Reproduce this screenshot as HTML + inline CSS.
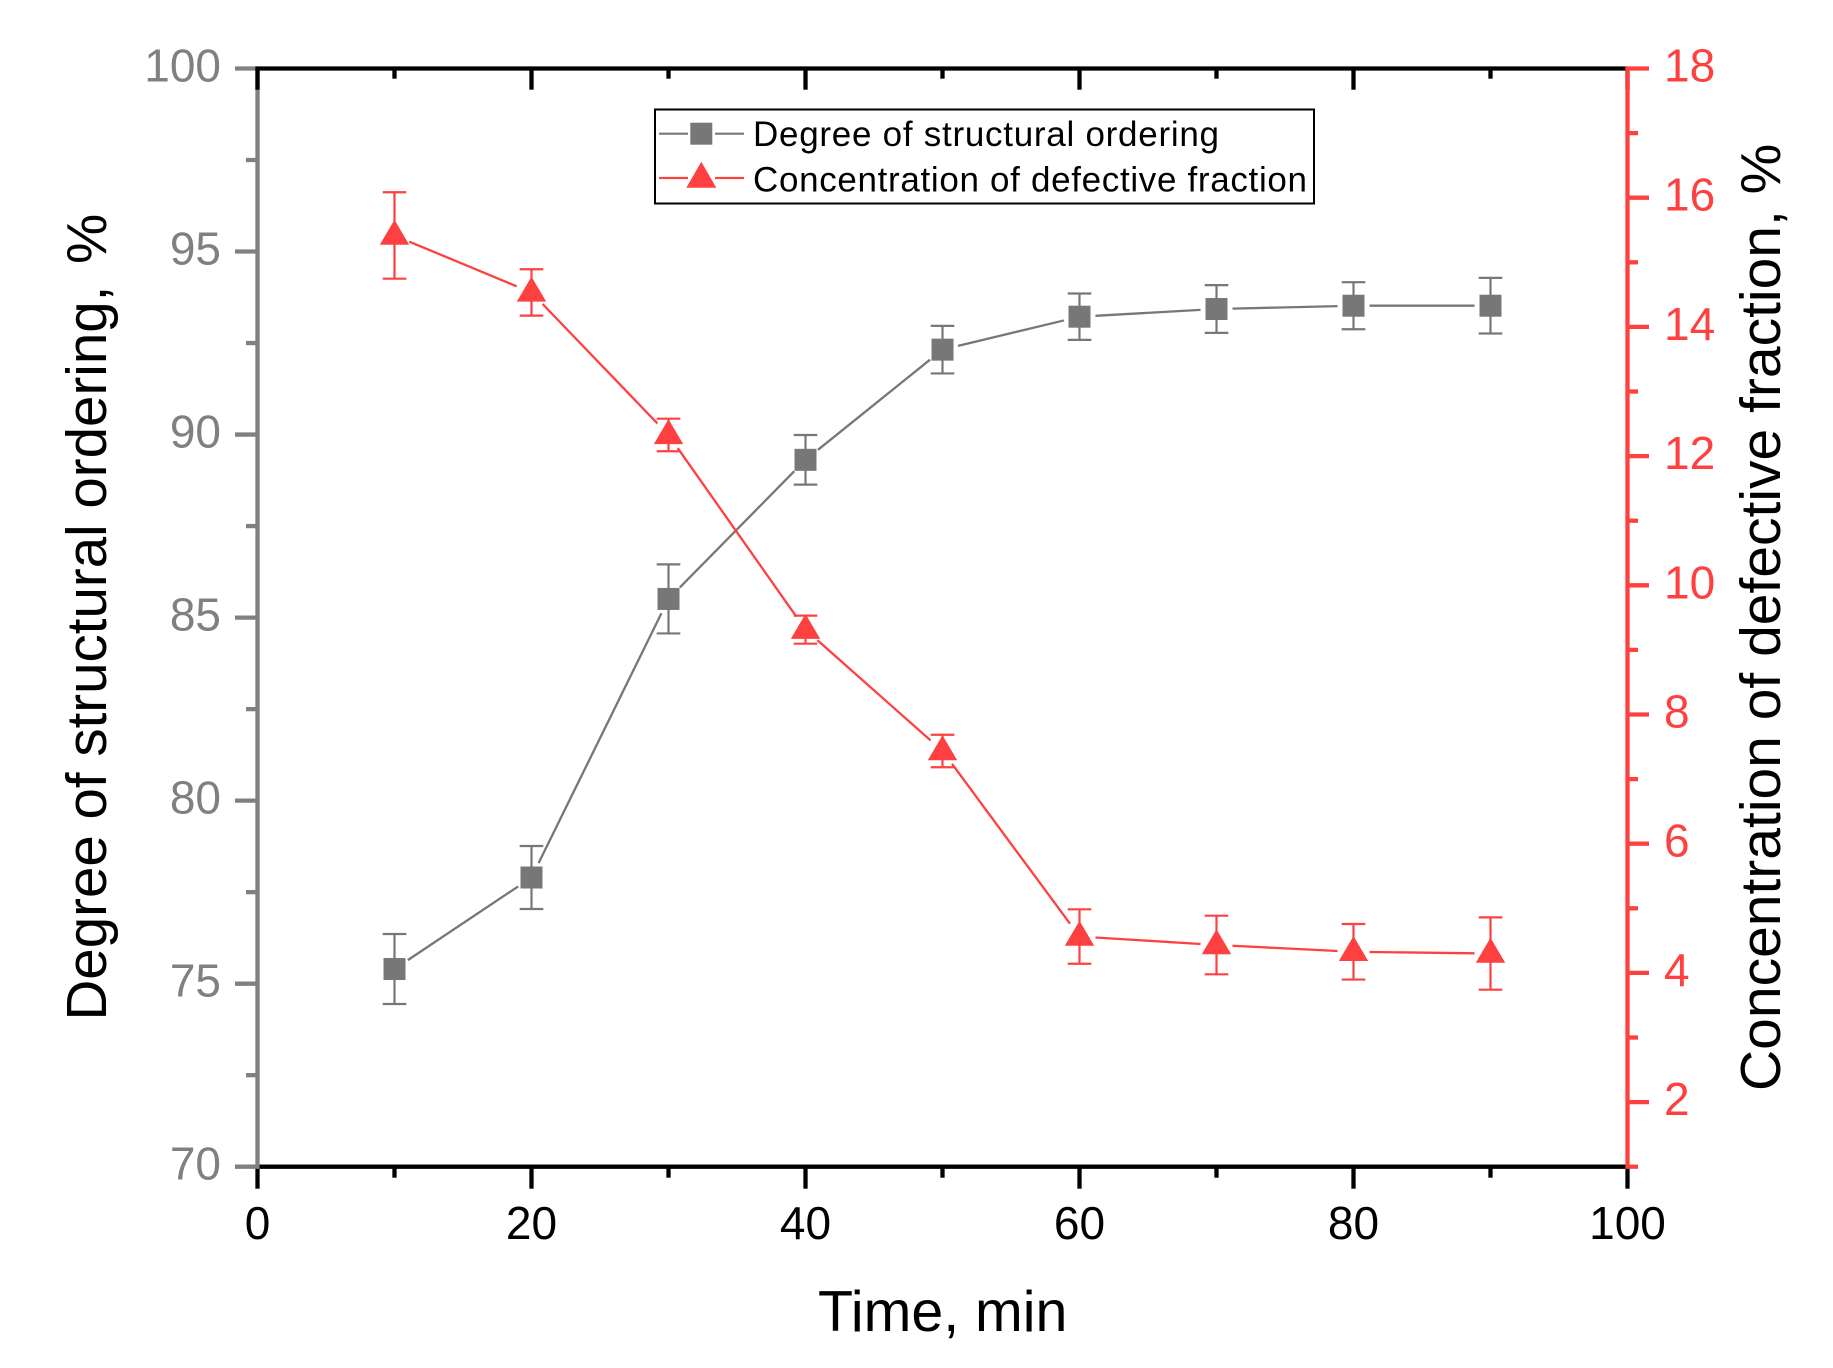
<!DOCTYPE html>
<html lang="en">
<head>
<meta charset="utf-8">
<title>Degree of structural ordering and concentration of defective fraction vs time</title>
<style>
  html, body { margin: 0; padding: 0; background: #ffffff; }
  svg { display: block; }
  text { font-family: "Liberation Sans", Arial, sans-serif; }
</style>
</head>
<body>
<svg id="chart" xmlns="http://www.w3.org/2000/svg" width="1833" height="1368" viewBox="0 0 1833 1368">
  <rect x="0" y="0" width="1833" height="1368" fill="#ffffff"/>
  <g id="axes"></g>
  <g id="series"></g>

  <text x="818" y="1331" font-size="57.3" fill="#000000">Time, min</text>
  <text transform="translate(106 1020.5) rotate(-90)" font-size="56.5" fill="#000000">Degree of structural ordering, <tspan dx="6">%</tspan></text>
  <text transform="translate(1780 1091) rotate(-90)" font-size="57" fill="#000000">Concentration of defective fraction, %</text>

  <g>
    <rect x="655" y="109.5" width="659" height="94" fill="#ffffff" stroke="#000000" stroke-width="2"/>
    <g>
      <line x1="659" y1="133.7" x2="688" y2="133.7" stroke="#777777" stroke-width="2.2"/>
      <line x1="715" y1="133.7" x2="744" y2="133.7" stroke="#777777" stroke-width="2.2"/>
      <rect x="690.3" y="122.7" width="22" height="22" fill="#777777"/>
      <text x="753" y="146.2" font-size="35" textLength="466" lengthAdjust="spacing" fill="#000000">Degree of structural ordering</text>
    </g>
    <g>
      <line x1="659" y1="178" x2="688" y2="178" stroke="#ff4040" stroke-width="2.2"/>
      <line x1="715" y1="178" x2="744" y2="178" stroke="#ff4040" stroke-width="2.2"/>
      <polygon points="701.3,161.7 716.3,187.7 686.3,187.7" fill="#ff4040"/>
      <text x="753" y="191.3" font-size="35" textLength="554" lengthAdjust="spacing" fill="#000000">Concentration of defective fraction</text>
    </g>
  </g>
</svg>

<script>
// ---- Data ----
const timeMinutes = [10, 20, 30, 40, 50, 60, 70, 80, 90];
const orderingValues = [75.4, 77.9, 85.51, 89.31, 92.32, 93.22, 93.43, 93.52, 93.52];
const orderingErrors = [0.956, 0.86, 0.943, 0.678, 0.65, 0.634, 0.653, 0.642, 0.76];
const defectiveValues = [15.415, 14.533, 12.327, 9.313, 7.435, 4.563, 4.432, 4.327, 4.3];
const defectiveErrors = [0.669, 0.359, 0.252, 0.217, 0.252, 0.421, 0.454, 0.43, 0.56];

const xMajorTicks = [0, 20, 40, 60, 80, 100];
const xMinorTicks = [10, 30, 50, 70, 90];
const leftMajorTicks = [70, 75, 80, 85, 90, 95, 100];
const leftMinorTicks = [72.5, 77.5, 82.5, 87.5, 92.5, 97.5];
const rightMajorTicks = [2, 4, 6, 8, 10, 12, 14, 16, 18];
const rightMinorTicks = [1, 3, 5, 7, 9, 11, 13, 15, 17];

// ---- Axis functions ----
const plotLeft = 257.5, plotRight = 1627.5, plotTop = 68.5, plotBottom = 1166.7;
function xScale(v) { return plotLeft + (v - 0) / (100 - 0) * (plotRight - plotLeft); }
function yLeft(v) { return plotBottom - (v - 70) / (100 - 70) * (plotBottom - plotTop); }
function yRight(v) { return plotBottom - (v - 1) / (18 - 1) * (plotBottom - plotTop); }

const SVG_NS = 'http://www.w3.org/2000/svg';
const GREY_AXIS = '#808080', GREY = '#777777', RED = '#ff4040', BLACK = '#000000';
const axesLayer = document.getElementById('axes');
const seriesLayer = document.getElementById('series');

function shape(parent, tag, geometry) {
  const el = document.createElementNS(SVG_NS, tag);
  for (const key in geometry) { el.setAttribute(key, geometry[key]); }
  parent.appendChild(el);
  return el;
}
function axisLine(x1, y1, x2, y2, color, name) {
  const el = shape(axesLayer, 'line', { x1: x1, y1: y1, x2: x2, y2: y2, stroke: color, 'stroke-width': 4.3 });
  
  
  return el;
}
function tickLabel(x, y, str, color, anchor, name) {
  const el = shape(axesLayer, 'text', { x: x, y: y, fill: color, 'font-size': 46, 'text-anchor': anchor });
  el.textContent = str;
  
  
  return el;
}

// ---- Left axis (grey) ----
axisLine(plotLeft, plotTop, plotLeft, plotBottom, GREY_AXIS, 'left-y-axis-line');
leftMinorTicks.forEach(function (v) {
  axisLine(246, yLeft(v), plotLeft, yLeft(v), GREY_AXIS, 'left-y-minor-tick');
});
leftMajorTicks.forEach(function (v) {
  if (v !== 70) { axisLine(235, yLeft(v), plotLeft, yLeft(v), GREY_AXIS, 'left-y-major-tick'); }
  tickLabel(221, yLeft(v) + 13, String(v), GREY_AXIS, 'end', 'left-y-tick-label');
});

// ---- Top and bottom axes (black) ----
axisLine(plotLeft - 2.1, plotTop, plotRight, plotTop, BLACK, 'top-axis-line');
axisLine(plotLeft, plotBottom, plotRight, plotBottom, BLACK, 'x-axis-line');
xMajorTicks.forEach(function (v) {
  axisLine(xScale(v), plotTop, xScale(v), 89.7, BLACK, 'top-major-tick');
  axisLine(xScale(v), plotBottom, xScale(v), 1188.7, BLACK, 'x-major-tick');
  tickLabel(xScale(v), 1239, String(v), BLACK, 'middle', 'x-tick-label');
});
xMinorTicks.forEach(function (v) {
  axisLine(xScale(v), plotTop, xScale(v), 78.7, BLACK, 'top-minor-tick');
  axisLine(xScale(v), plotBottom, xScale(v), 1177.7, BLACK, 'x-minor-tick');
});
axisLine(235, yLeft(70), plotLeft + 2.1, yLeft(70), GREY_AXIS, 'left-y-major-tick');

// ---- Right axis (red) ----
axisLine(plotRight, plotTop - 2.1, plotRight, plotBottom + 2.1, RED, 'right-y-axis-line');
rightMinorTicks.forEach(function (v) {
  axisLine(plotRight, yRight(v), 1638, yRight(v), RED, 'right-y-minor-tick');
});
rightMajorTicks.forEach(function (v) {
  axisLine(plotRight, yRight(v), 1649, yRight(v), RED, 'right-y-major-tick');
  tickLabel(1664, yRight(v) + 13, String(v), RED, 'start', 'right-y-tick-label');
});

// ---- Series ----
const LINE_GAP = 16, CAP_HALF = 11.8;

function drawSeries(values, errors, yScale, color, markerType, key) {
  const group = shape(seriesLayer, 'g', {});
  
  

  values.forEach(function (v, i) {
    if (i === values.length - 1) { return; }
    const x1 = xScale(timeMinutes[i]), y1 = yScale(v);
    const x2 = xScale(timeMinutes[i + 1]), y2 = yScale(values[i + 1]);
    const len = Math.hypot(x2 - x1, y2 - y1);
    const ux = (x2 - x1) / len, uy = (y2 - y1) / len;
    const seg = shape(group, 'line', {
      x1: x1 + ux * LINE_GAP, y1: y1 + uy * LINE_GAP,
      x2: x2 - ux * LINE_GAP, y2: y2 - uy * LINE_GAP,
      stroke: color, 'stroke-width': 2.3
    });
    
    
  });

  values.forEach(function (v, i) {
    const x = xScale(timeMinutes[i]), y = yScale(v);
    const hi = yScale(v + errors[i]), lo = yScale(v - errors[i]);

    const stem = shape(group, 'line', { x1: x, y1: hi, x2: x, y2: lo, stroke: color, 'stroke-width': 2.2 });
    
    

    const capTop = shape(group, 'line', { x1: x - CAP_HALF, y1: hi, x2: x + CAP_HALF, y2: hi, stroke: color, 'stroke-width': 2.2 });
    
    

    const capBottom = shape(group, 'line', { x1: x - CAP_HALF, y1: lo, x2: x + CAP_HALF, y2: lo, stroke: color, 'stroke-width': 2.2 });
    
    

    let marker;
    if (markerType === 'square') {
      marker = shape(group, 'rect', { x: x - 11, y: y - 11, width: 22, height: 22, fill: color });
    } else {
      marker = shape(group, 'polygon', {
        points: x + ',' + (y - 15.8) + ' ' + (x + 14.7) + ',' + (y + 9.2) + ' ' + (x - 14.7) + ',' + (y + 9.2),
        fill: color
      });
    }
    
    
  });
}

drawSeries(orderingValues, orderingErrors, yLeft, GREY, 'square', 'ordering');
drawSeries(defectiveValues, defectiveErrors, yRight, RED, 'triangle', 'defective');
</script>
</body>
</html>
